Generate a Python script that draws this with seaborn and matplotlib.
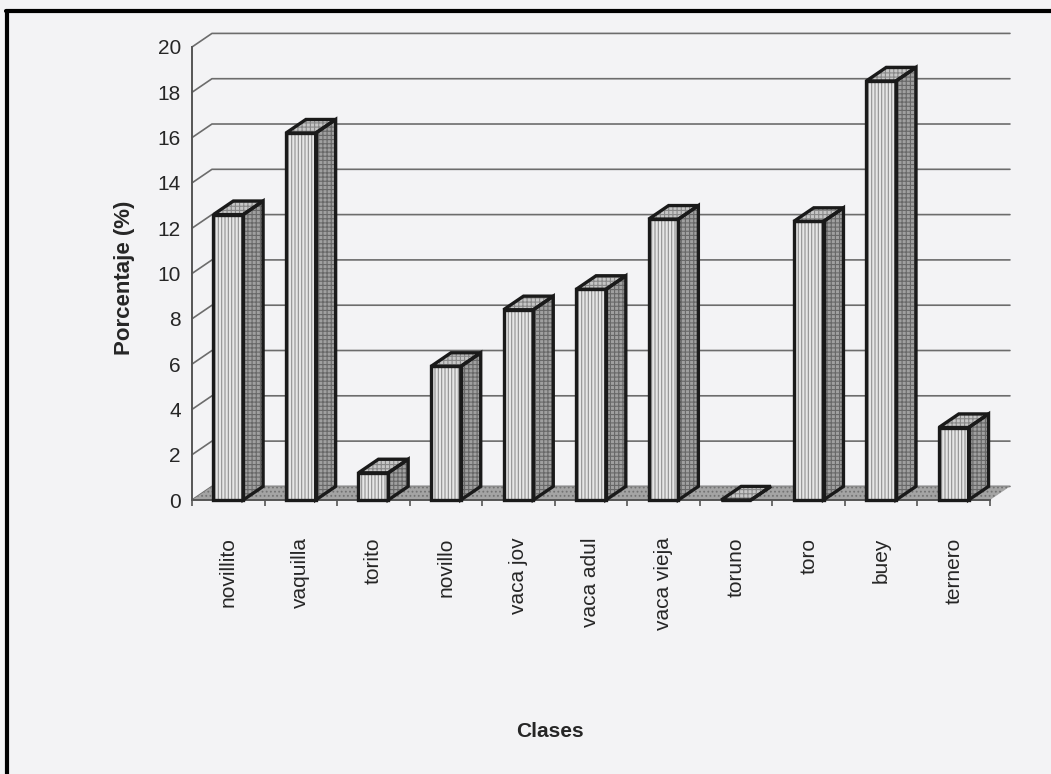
import numpy as np
import pandas as pd
import matplotlib
matplotlib.use("Agg")
import matplotlib.pyplot as plt
from matplotlib.patches import Polygon
from matplotlib.lines import Line2D
import seaborn as sns

# Data
categories = ["novillito", "vaquilla", "torito", "novillo", "vaca jov", "vaca adul",
              "vaca vieja", "toruno", "toro", "buey", "ternero"]
values = [12.6, 16.2, 1.2, 5.9, 8.4, 9.3, 12.4, 0.0, 12.3, 18.5, 3.2]
yticks = [0, 2, 4, 6, 8, 10, 12, 14, 16, 18, 20]

sns.set_style("white")
plt.rcParams["font.family"] = ["Liberation Sans", "DejaVu Sans"]
plt.rcParams["hatch.linewidth"] = 0.8

BG = "#f3f3f5"
GRID = "#6c6c6c"
AXIS = "#555555"
DX, DY = 0.275, 0.6  # depth offset (category units, value units)

df = pd.DataFrame({"Clase": categories, "Porcentaje": values})

fig = plt.figure(figsize=(10.51, 7.74), dpi=100, facecolor=BG)
ax = fig.add_axes([192 / 1051, 274 / 774, 798 / 1051, 453 / 774], facecolor=BG)

sns.barplot(data=df, x="Clase", y="Porcentaje", color="#e6e6e6", saturation=1,
            width=0.41, hatch="|||||", edgecolor="#909090", linewidth=0,
            errorbar=None, ax=ax, zorder=4)

ax.set_xlim(-0.5, 10.5)
ax.set_ylim(0, 20)
x0, x1 = ax.get_xlim()

# back wall gridlines with their oblique connectors
for v in yticks:
    ax.add_line(Line2D([x0, x0 + DX, x1 + DX], [v, v + DY, v + DY],
                       color=GRID, lw=1.2, zorder=1, clip_on=False))

# floor
floor = Polygon([(x0, 0), (x1, 0), (x1 + DX, DY), (x0 + DX, DY)], closed=True,
                facecolor="#a4a4a4", edgecolor="#737373", hatch="....",
                lw=0, zorder=2, clip_on=False)
ax.add_patch(floor)

# side and top faces of each bar, plus outlines
front_bars = [p for p in ax.patches if p is not floor]
for p in front_bars:
    x, w, h = p.get_x(), p.get_width(), p.get_height()
    side = [(x + w, 0), (x + w + DX, DY), (x + w + DX, h + DY), (x + w, h)]
    top = [(x, h), (x + w, h), (x + w + DX, h + DY), (x + DX, h + DY)]
    front = [(x, 0), (x + w, 0), (x + w, h), (x, h)]
    ax.add_patch(Polygon(side, closed=True, facecolor="#a0a0a0", edgecolor="#686868",
                         hatch="++++", lw=0, zorder=4, clip_on=False))
    ax.add_patch(Polygon(top, closed=True, facecolor="#c6c6c6", edgecolor="#888888",
                         hatch="++++", lw=0, zorder=4, clip_on=False))
    for poly in (front, side, top):
        ax.add_patch(Polygon(poly, closed=True, fill=False, edgecolor="#1a1a1a",
                             lw=2.4, joinstyle="miter", zorder=5, clip_on=False))

# axes styling
for s in ("top", "right"):
    ax.spines[s].set_visible(False)
ax.spines["left"].set_color(AXIS)
ax.spines["left"].set_linewidth(1.4)
ax.spines["bottom"].set_color(AXIS)
ax.spines["bottom"].set_linewidth(1.4)
ax.spines["left"].set_zorder(6)

ax.set_yticks(yticks)
ax.set_yticklabels([str(t) for t in yticks])
ax.tick_params(axis="y", length=4, width=1.2, color=AXIS, pad=4,
               labelsize=15, labelcolor="#262626")

ax.set_xticks(range(len(categories)))
ax.set_xticklabels(categories, rotation=90)
ax.set_xticks(np.arange(-0.5, len(categories), 1.0), minor=True)
ax.tick_params(axis="x", which="major", length=0, pad=27, labelsize=15,
               labelcolor="#262626")
ax.tick_params(axis="x", which="minor", length=4, width=1.2, color=AXIS, bottom=True)

ax.set_xlabel("Clases", fontsize=15, fontweight="bold", color="#262626")
ax.xaxis.set_label_coords(0.449, -0.49)
ax.set_ylabel("Porcentaje (%)", fontsize=16, fontweight="bold", color="#262626")
ax.yaxis.set_label_coords(-0.072, 0.49)

# page frame
fig.add_artist(Line2D([0.0055, 1.0], [0.9862, 0.9862], transform=fig.transFigure,
                      color="black", lw=3))
fig.add_artist(Line2D([0.0071, 0.0071], [0.0, 0.9862], transform=fig.transFigure,
                      color="black", lw=3))

fig.savefig("out.png", dpi=100, facecolor=BG)
